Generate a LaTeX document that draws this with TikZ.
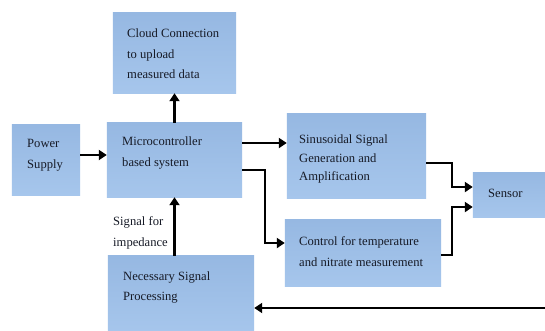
\documentclass[tikz,border=0pt]{standalone}
\usepackage{fontspec}
\setmainfont{Liberation Serif}
\usetikzlibrary{arrows.meta,calc}
\definecolor{boxtop}{RGB}{150,184,226}
\definecolor{boxbot}{RGB}{166,198,236}
\definecolor{txt}{RGB}{22,26,38}
\begin{document}
\begin{tikzpicture}[x=1pt,y=-1pt,
  blk/.style={shade,top color=boxtop,bottom color=boxbot,draw=none},
  bx/.style={inner sep=0pt},
  lbl/.style={anchor=north west,inner sep=0pt,align=left,text=txt,
    font=\rmfamily\fontsize{12.6}{20}\selectfont},
  arr/.style={line width=2.7pt,-{Triangle[length=8pt,width=10pt]}}]
\useasboundingbox (0,0) rectangle (545,330);
\fill[white] (0,0) rectangle (545,330);
% boxes
\node[bx,minimum width=123pt,minimum height=80pt] (cloud) at (174.5,53) {};
\node[bx,minimum width=68pt,minimum height=70pt] (power) at (46,160) {};
\node[bx,minimum width=135pt,minimum height=74pt] (micro) at (174.5,160) {};
\node[bx,minimum width=139pt,minimum height=84pt] (sin) at (356.5,156) {};
\node[bx,minimum width=156pt,minimum height=66pt] (ctrl) at (363,253) {};
\node[bx,minimum width=73pt,minimum height=44pt] (sensor) at (509.5,195) {};
\node[bx,minimum width=146pt,minimum height=76pt] (nsp) at (181,294) {};
\foreach \n in {cloud,power,micro,sin,ctrl,sensor,nsp}
  \path[blk] (\n.north west) rectangle (\n.south east);
% texts
\node[lbl] (tcloud) at (127,29) {Cloud Connection\\[1pt]to upload\\measured data};
\node[lbl] (tpower) at (27,139) {Power\\[1pt]Supply};
\node[lbl] (tmicro) at (122,137) {Microcontroller\\[1pt]based system};
\node[lbl,font=\rmfamily\fontsize{12.6}{18.5}\selectfont] (tsin) at (299,135) {Sinusoidal Signal\\Generation and\\Amplification};
\node[lbl] (tctrl) at (299,236) {Control for temperature\\[1pt]and nitrate measurement};
\node[lbl] (tsensor) at (488,189) {Sensor};
\node[lbl] (tnsp) at (123,272) {Necessary Signal\\Processing};
\node[lbl] (timp) at (113,216) {Signal for\\[1pt]impedance};
% connectors
\coordinate (fb) at (545,308);
\draw[arr] (power.east |- 0,155) -- (micro.west |- 0,155);
\draw[arr] (micro.north) -- (cloud.south);
\draw[arr] (micro.east |- 0,143) -- (sin.west |- 0,143);
\draw[arr] (micro.east |- 0,170) -| (265,243) -- (ctrl.west |- 0,243);
\draw[arr] (sin.east |- 0,163) -| (452,187) -- (sensor.west |- 0,187);
\draw[arr] (ctrl.east |- 0,255) -| (452,207) -- (sensor.west |- 0,207);
\draw[arr] (nsp.north -| micro.north) -- (micro.south);
\draw[arr] (fb) -- (nsp.east |- fb);
\end{tikzpicture}
\end{document}
